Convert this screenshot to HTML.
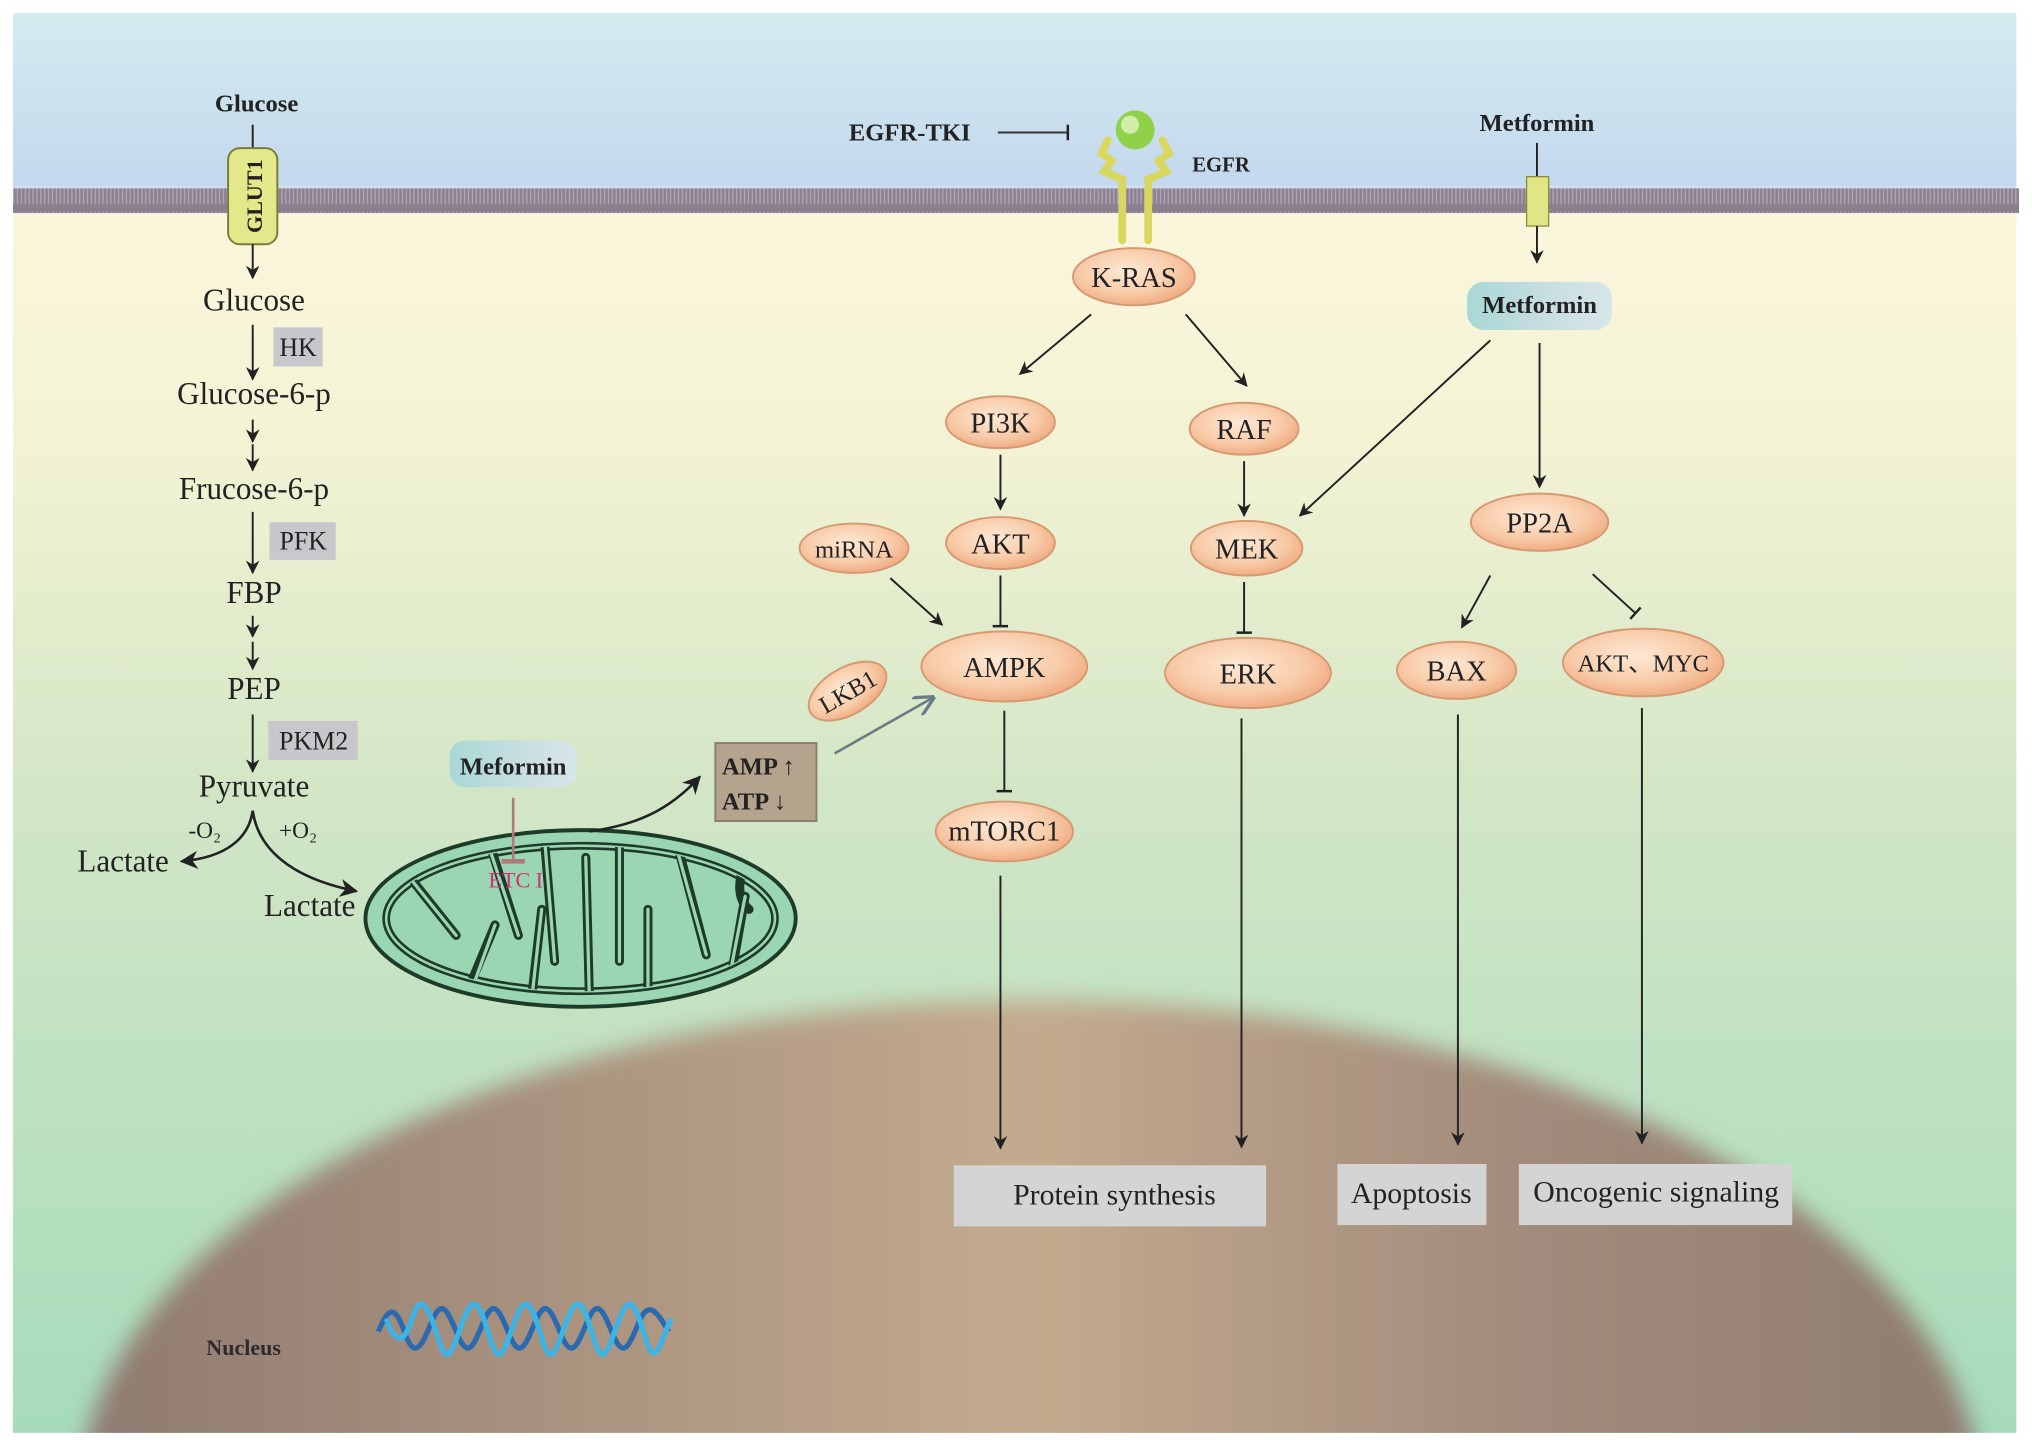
<!DOCTYPE html>
<html><head><meta charset="utf-8"><style>
html,body{margin:0;padding:0;background:#fff;width:2032px;height:1442px;overflow:hidden;}
svg{display:block;}
text{font-family:"Liberation Serif",serif;fill:#222;}
</style></head><body>
<svg width="2032" height="1442" viewBox="0 0 1568 1110" preserveAspectRatio="none" xmlns="http://www.w3.org/2000/svg">
<defs>
<linearGradient id="bg" x1="0" y1="0" x2="0" y2="1">
<stop offset="0" stop-color="#d3ecef"/>
<stop offset="0.12" stop-color="#c4d8ee"/>
<stop offset="0.135" stop-color="#fbf6dc"/>
<stop offset="0.3" stop-color="#f3f3d4"/>
<stop offset="0.55" stop-color="#d2e6c6"/>
<stop offset="1" stop-color="#a6dcbb"/>
</linearGradient>
<linearGradient id="nuc" x1="0" y1="0" x2="1" y2="0">
<stop offset="0" stop-color="#8f7a70"/>
<stop offset="0.5" stop-color="#c3ab8e"/>
<stop offset="0.75" stop-color="#a38c7c"/>
<stop offset="1" stop-color="#8f7c70"/>
</linearGradient>
<filter id="blur" x="-10%" y="-10%" width="120%" height="120%"><feGaussianBlur stdDeviation="9"/></filter>
<radialGradient id="ov" cx="0.45" cy="0.4" r="0.65">
<stop offset="0" stop-color="#fde9d6"/>
<stop offset="0.6" stop-color="#f8cba8"/>
<stop offset="1" stop-color="#eea57a"/>
</radialGradient>
<linearGradient id="met" x1="0" y1="0" x2="1" y2="0">
<stop offset="0" stop-color="#a9d8d6"/>
<stop offset="0.5" stop-color="#c5dde0"/>
<stop offset="1" stop-color="#d8e6e8"/>
</linearGradient>
<pattern id="mem" width="3" height="20" patternUnits="userSpaceOnUse">
<rect width="3" height="20" fill="#8c7f90"/>
<rect x="1" y="3" width="1" height="14" fill="#b4a8b8"/>
</pattern>
<marker id="a" viewBox="0 0 10 10" refX="9" refY="5" markerWidth="7" markerHeight="7" orient="auto-start-reverse"><path d="M0,0 L10,5 L0,10 L3,5 z" fill="#222"/></marker>
<marker id="ag" viewBox="0 0 10 10" refX="9" refY="5" markerWidth="8" markerHeight="8" orient="auto"><path d="M0,0 L10,5 L0,10" fill="none" stroke="#6a7a86" stroke-width="1.6"/></marker>
<marker id="t" viewBox="0 0 10 10" refX="5" refY="5" markerWidth="8" markerHeight="8" orient="auto"><path d="M5,0 L5,10" stroke="#222" stroke-width="1.6"/></marker>
<marker id="tr" viewBox="0 0 10 10" refX="5" refY="5" markerWidth="9" markerHeight="9" orient="auto"><path d="M5,0 L5,10" stroke="#b07a7a" stroke-width="2"/></marker>
<clipPath id="mc"><ellipse cx="448" cy="707" rx="150" ry="56"/></clipPath>
</defs>
<rect width="1568" height="1110" fill="#fff"/>
<rect x="10" y="10" width="1546" height="1093" fill="url(#bg)"/>
<g filter="url(#blur)">
<ellipse cx="795" cy="1160" rx="735" ry="390" fill="url(#nuc)"/>
</g>
<rect x="0" y="1103" width="1568" height="7" fill="#fff"/>
<rect x="1556" y="0" width="12" height="1110" fill="#fff"/>
<rect x="0" y="0" width="10" height="1110" fill="#fff"/>
<rect x="10" y="145" width="1548" height="19" fill="url(#mem)"/>
<!-- left glycolysis -->
<text x="198" y="86" font-size="19" font-weight="bold" text-anchor="middle">Glucose</text>
<line x1="195" y1="96" x2="195" y2="118" stroke="#222" stroke-width="1.5"/>
<rect x="176" y="114" width="38" height="74" rx="9" fill="#e3e98a" stroke="#7c7c3a" stroke-width="1.5"/>
<text transform="translate(202,151) rotate(-90)" font-size="17" font-weight="bold" text-anchor="middle">GLUT1</text>
<line x1="195" y1="188" x2="195" y2="214" stroke="#222" stroke-width="1.5" marker-end="url(#a)"/>
<g font-size="24" text-anchor="middle">
<text x="196" y="239">Glucose</text>
<text x="196" y="311">Glucose-6-p</text>
<text x="196" y="384">Frucose-6-p</text>
<text x="196" y="464">FBP</text>
<text x="196" y="538">PEP</text>
<text x="196" y="613">Pyruvate</text>
<text x="95" y="671">Lactate</text>
<text x="239" y="705">Lactate</text>
</g>
<line x1="195" y1="250" x2="195" y2="292" stroke="#222" stroke-width="1.5" marker-end="url(#a)"/>
<rect x="211" y="252" width="38" height="30" fill="#c8c8cc"/><text x="230" y="274" font-size="20" text-anchor="middle">HK</text>
<line x1="195" y1="323" x2="195" y2="340" stroke="#222" stroke-width="1.5" marker-end="url(#a)"/>
<line x1="195" y1="342" x2="195" y2="362" stroke="#222" stroke-width="1.5" marker-end="url(#a)"/>
<line x1="195" y1="394" x2="195" y2="441" stroke="#222" stroke-width="1.5" marker-end="url(#a)"/>
<rect x="208" y="402" width="51" height="29" fill="#c8c8cc"/><text x="234" y="423" font-size="20" text-anchor="middle">PFK</text>
<line x1="195" y1="474" x2="195" y2="490" stroke="#222" stroke-width="1.5" marker-end="url(#a)"/>
<line x1="195" y1="494" x2="195" y2="515" stroke="#222" stroke-width="1.5" marker-end="url(#a)"/>
<line x1="195" y1="550" x2="195" y2="594" stroke="#222" stroke-width="1.5" marker-end="url(#a)"/>
<rect x="207" y="555" width="69" height="30" fill="#c8c8cc"/><text x="242" y="577" font-size="20" text-anchor="middle">PKM2</text>
<text x="158" y="645" font-size="18" text-anchor="middle">-O₂</text>
<text x="230" y="645" font-size="18" text-anchor="middle">+O₂</text>
<path d="M195,624 C192,645 175,660 140,663" fill="none" stroke="#222" stroke-width="2" marker-end="url(#a)"/>
<path d="M195,624 C200,660 235,678 275,686" fill="none" stroke="#222" stroke-width="2" marker-end="url(#a)"/>
<!-- mitochondria -->
<ellipse cx="448" cy="707" rx="166" ry="68" fill="#9ad6b2" stroke="#1e3a28" stroke-width="3"/>
<ellipse cx="448" cy="707" rx="150" ry="56" fill="none" stroke="#1e3a28" stroke-width="6"/>
<ellipse cx="448" cy="707" rx="150" ry="56" fill="none" stroke="#9ad6b2" stroke-width="2"/>
<g clip-path="url(#mc)">
<g fill="none" stroke="#1e3a28" stroke-width="7" stroke-linecap="round">
<path d="M320,680 L352,720 M362,760 L382,712 M378,650 L400,720 M410,770 L418,700 M420,645 L428,740 M455,775 L452,660 M478,640 L478,740 M500,775 L500,700 M520,640 L545,735 M560,775 L575,690 M590,650 C570,660 565,690 578,700"/>
</g>
<g fill="none" stroke="#9ad6b2" stroke-width="2.5" stroke-linecap="round">
<path d="M318,678 L352,720 M364,762 L382,712 M376,648 L400,720 M410,772 L418,700 M420,643 L428,740 M455,777 L452,660 M478,638 L478,740 M500,777 L500,700 M518,638 L545,735 M558,777 L575,690"/>
</g>
</g>
<rect x="347" y="570" width="98" height="36" rx="12" fill="url(#met)"/>
<text x="396" y="596" font-size="19" font-weight="bold" text-anchor="middle">Meformin</text>
<line x1="396" y1="614" x2="396" y2="663" stroke="#b07a7a" stroke-width="2" marker-end="url(#tr)"/>
<text x="398" y="683" font-size="17" text-anchor="middle" style="fill:#d0307a">ETC I</text>
<path d="M455,640 C490,635 515,625 540,598" fill="none" stroke="#222" stroke-width="2" marker-end="url(#a)"/>
<rect x="552" y="572" width="78" height="60" fill="#b4a48e" stroke="#8a7e70" stroke-width="1.5"/>
<text x="557" y="596" font-size="19" font-weight="bold">AMP ↑</text>
<text x="557" y="623" font-size="19" font-weight="bold">ATP  ↓</text>
<line x1="644" y1="580" x2="720" y2="537" stroke="#6a7a86" stroke-width="2" marker-end="url(#ag)"/>
<!-- EGFR -->
<text x="702" y="108" font-size="19" font-weight="bold" text-anchor="middle">EGFR-TKI</text>
<line x1="770" y1="102" x2="824" y2="102" stroke="#333" stroke-width="1.5" marker-end="url(#t)"/>
<circle cx="876" cy="100" r="15" fill="#8fd24a"/><circle cx="872" cy="96" r="7" fill="#e0f4c0" opacity="0.8"/>
<path d="M855,108 L850,118 L858,124 L852,132 L866,138 L866,185 M897,108 L902,118 L894,124 L900,132 L886,138 L886,185" fill="none" stroke="#d8d860" stroke-width="6" stroke-linecap="round"/>
<text x="920" y="132" font-size="16" font-weight="bold">EGFR</text>
<!-- Metformin right -->
<text x="1186" y="101" font-size="19" font-weight="bold" text-anchor="middle">Metformin</text>
<line x1="1186" y1="110" x2="1186" y2="138" stroke="#222" stroke-width="1.5"/>
<rect x="1178" y="136" width="17" height="38" fill="#e0e684" stroke="#8a8a40"/>
<line x1="1186" y1="174" x2="1186" y2="202" stroke="#222" stroke-width="1.5" marker-end="url(#a)"/>
<rect x="1132" y="217" width="112" height="37" rx="13" fill="url(#met)"/>
<text x="1188" y="241" font-size="19" font-weight="bold" text-anchor="middle">Metformin</text>
<!-- nodes -->
<g stroke="#d69a72" stroke-width="1.5" fill="url(#ov)">
<ellipse cx="875" cy="213" rx="47" ry="22"/>
<ellipse cx="772" cy="325" rx="42" ry="20"/>
<ellipse cx="960" cy="330" rx="42" ry="20"/>
<ellipse cx="772" cy="418" rx="42" ry="20"/>
<ellipse cx="659" cy="422" rx="42" ry="19"/>
<ellipse cx="962" cy="422" rx="43" ry="21"/>
<ellipse cx="775" cy="513" rx="64" ry="27"/>
<ellipse cx="654" cy="532" rx="33" ry="18" transform="rotate(-30 654 532)"/>
<ellipse cx="963" cy="518" rx="64" ry="27"/>
<ellipse cx="775" cy="640" rx="53" ry="23"/>
<ellipse cx="1188" cy="402" rx="53" ry="22"/>
<ellipse cx="1124" cy="516" rx="46" ry="22"/>
<ellipse cx="1268" cy="510" rx="62" ry="26"/>
</g>
<g font-size="22" text-anchor="middle">
<text x="875" y="221">K-RAS</text>
<text x="772" y="333">PI3K</text>
<text x="960" y="338">RAF</text>
<text x="772" y="426">AKT</text>
<text x="659" y="429" font-size="19">miRNA</text>
<text x="962" y="430">MEK</text>
<text x="775" y="521">AMPK</text>
<text x="654" y="539" font-size="19" transform="rotate(-30 654 532)">LKB1</text>
<text x="963" y="526">ERK</text>
<text x="775" y="647">mTORC1</text>
<text x="1188" y="410">PP2A</text>
<text x="1124" y="524">BAX</text>
<text x="1268" y="517" font-size="19">AKT、MYC</text>
</g>
<g stroke="#222" stroke-width="1.5" fill="none">
<line x1="842" y1="242" x2="787" y2="288" marker-end="url(#a)"/>
<line x1="915" y1="242" x2="962" y2="297" marker-end="url(#a)"/>
<line x1="772" y1="350" x2="772" y2="392" marker-end="url(#a)"/>
<line x1="960" y1="355" x2="960" y2="397" marker-end="url(#a)"/>
<line x1="1150" y1="262" x2="1003" y2="397" marker-end="url(#a)"/>
<line x1="1188" y1="264" x2="1188" y2="375" marker-end="url(#a)"/>
<line x1="687" y1="445" x2="727" y2="481" marker-end="url(#a)"/>
<line x1="772" y1="443" x2="772" y2="482" marker-end="url(#t)"/>
<line x1="960" y1="448" x2="960" y2="487" marker-end="url(#t)"/>
<line x1="775" y1="547" x2="775" y2="609" marker-end="url(#t)"/>
<line x1="1150" y1="443" x2="1128" y2="483" marker-end="url(#a)"/>
<line x1="1229" y1="442" x2="1262" y2="472" marker-end="url(#t)"/>
<line x1="772" y1="674" x2="772" y2="884" marker-end="url(#a)"/>
<line x1="958" y1="553" x2="958" y2="883" marker-end="url(#a)"/>
<line x1="1125" y1="550" x2="1125" y2="881" marker-end="url(#a)"/>
<line x1="1267" y1="545" x2="1267" y2="880" marker-end="url(#a)"/>
</g>
<rect x="736" y="897" width="241" height="47" fill="#d4d4d4"/>
<text x="860" y="927" font-size="23" text-anchor="middle">Protein synthesis</text>
<rect x="1032" y="896" width="115" height="47" fill="#d4d4d4"/>
<text x="1089" y="926" font-size="23" text-anchor="middle">Apoptosis</text>
<rect x="1172" y="896" width="211" height="47" fill="#d4d4d4"/>
<text x="1278" y="925" font-size="23" text-anchor="middle">Oncogenic signaling</text>
<text x="188" y="1043" font-size="17" font-weight="bold" text-anchor="middle" style="fill:#2e2a30">Nucleus</text>
<path d="M292,1025 C300,1005 305,1005 312,1025 S324,1040 332,1020 S344,1005 352,1025 S364,1040 372,1020 S384,1005 392,1025 S404,1040 412,1020 S424,1005 432,1025 S444,1040 452,1020 S464,1005 472,1025 S484,1040 492,1020 S506,1008 516,1025" fill="none" stroke="#2a6ab0" stroke-width="4"/>
<path d="M298,1015 C305,1035 312,1035 318,1015 S330,1003 338,1030 S350,1035 358,1015 S370,1003 378,1030 S390,1035 398,1015 S410,1003 418,1030 S430,1035 438,1015 S450,1003 458,1030 S470,1035 478,1015 S490,1003 498,1030 S510,1030 518,1015" fill="none" stroke="#3cb4e6" stroke-width="4"/>
</svg>
</body></html>
